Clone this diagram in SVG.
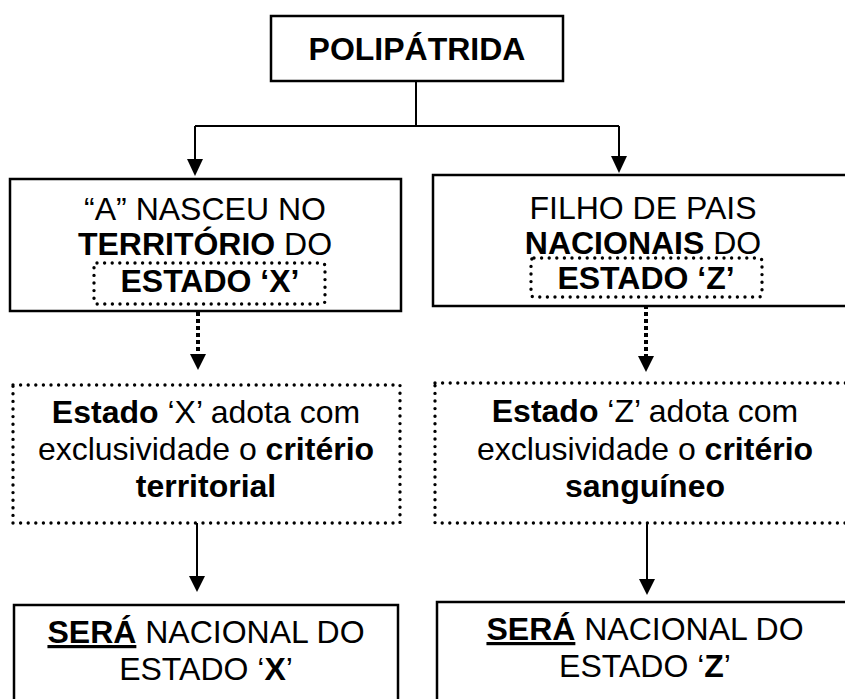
<svg xmlns="http://www.w3.org/2000/svg" width="845" height="699" viewBox="0 0 845 699">
<style>
text{font-family:"Liberation Sans",Arial,sans-serif;font-size:32px;fill:#000;text-anchor:middle}
.b{font-weight:bold}
.box{fill:#fff;stroke:#000;stroke-width:2.5}
.dbox{fill:none;stroke:#000;stroke-width:3.4;stroke-dasharray:0 7.6;stroke-linecap:round}
.ln{fill:none;stroke:#000;stroke-width:2}
.dl{fill:none;stroke:#000;stroke-width:4;stroke-dasharray:4 3}
</style>
<g id="connectors">
<path class="ln" d="M416,81 V126"/>
<path class="ln" d="M195,126 H619"/>
<path class="ln" d="M195,126 V160"/>
<polygon points="187,159 203,159 195,176"/>
<path class="ln" d="M619,126 V157"/>
<polygon points="611,156 627,156 619,173"/>
<path class="dl" d="M198,305 V356"/>
<polygon points="190,354 206,354 198,370"/>
<path class="dl" d="M646,298 V358"/>
<polygon points="638,356 654,356 646,372"/>
<path class="ln" d="M197,523 V578"/>
<polygon points="189,576 205,576 197,592"/>
<path class="ln" d="M647,523 V581"/>
<polygon points="639,579 655,579 647,595"/>
</g>
<g id="n-polipatrida">
<rect class="box" x="271" y="16" width="292" height="65" stroke-width="3"/>
<text class="b" x="417" y="60">POLIPÁTRIDA</text>
</g>
<g id="n-nasceu">
<rect class="box" x="10" y="179" width="391" height="132" stroke-width="2"/>
<text x="205" y="220">“A” NASCEU NO</text>
<text x="205" y="255"><tspan class="b">TERRITÓRIO</tspan> DO</text>
<text class="b" x="210" y="292">ESTADO ‘X’</text>
<rect class="dbox" x="94" y="263" width="231" height="41" rx="3"/>
</g>
<g id="n-filho">
<rect class="box" x="433" y="175" width="420" height="131" stroke-width="2"/>
<text x="643" y="219">FILHO DE PAIS</text>
<text x="643" y="254"><tspan class="b">NACIONAIS</tspan> DO</text>
<text class="b" x="646" y="289">ESTADO ‘Z’</text>
<rect class="dbox" x="531" y="258" width="231" height="39" rx="3"/>
</g>
<g id="n-estado-x">
<rect class="dbox" x="13" y="385" width="387" height="138"/>
<text x="206" y="423"><tspan class="b">Estado</tspan> ‘X’ adota com</text>
<text x="206" y="460">exclusividade o <tspan class="b">critério</tspan></text>
<text class="b" x="206" y="497">territorial</text>
</g>
<g id="n-estado-z">
<rect class="dbox" x="435" y="383" width="420" height="140"/>
<text x="645" y="422"><tspan class="b">Estado</tspan> ‘Z’ adota com</text>
<text x="645" y="460">exclusividade o <tspan class="b">critério</tspan></text>
<text class="b" x="645" y="497">sanguíneo</text>
</g>
<g id="n-nacional-x">
<rect class="box" x="14" y="605" width="384" height="120" stroke-width="2"/>
<text x="206" y="643"><tspan class="b" text-decoration="underline">SERÁ</tspan> NACIONAL DO</text>
<text x="206" y="680">ESTADO ‘<tspan class="b">X</tspan>’</text>
</g>
<g id="n-nacional-z">
<rect class="box" x="437" y="602" width="420" height="120" stroke-width="2"/>
<text x="645" y="640"><tspan class="b" text-decoration="underline">SERÁ</tspan> NACIONAL DO</text>
<text x="645" y="677">ESTADO ‘<tspan class="b">Z</tspan>’</text>
</g>
</svg>
